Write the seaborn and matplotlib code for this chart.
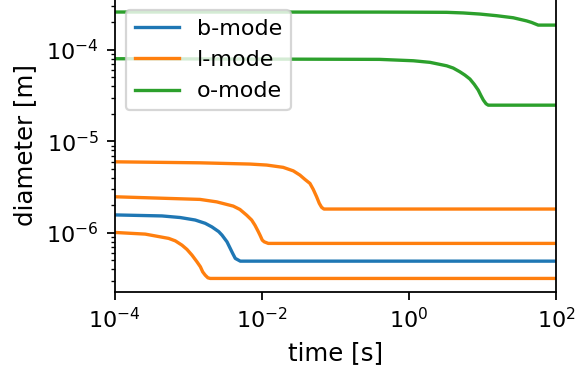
import matplotlib
matplotlib.use("Agg")
import matplotlib.pyplot as plt
import matplotlib.ticker as mticker
import seaborn as sns

# Droplet diameter histories (time in s, diameter in m)
b_time = [1e-4, 4.42e-4, 7.8e-4, 1.25e-3, 1.71e-3, 2.11e-3, 2.61e-3, 2.89e-3, 3.38e-3,
          3.74e-3, 4.04e-3, 4.38e-3, 5.12e-3, 1e2]
b_diam = [1.57e-6, 1.53e-6, 1.47e-6, 1.38e-6, 1.27e-6, 1.16e-6, 1.03e-6, 9.44e-7, 7.97e-7,
          6.75e-7, 5.95e-7, 5.25e-7, 4.90e-7, 4.90e-7]

l1_time = [1e-4, 2.62e-4, 5.45e-4, 6.70e-4, 8.26e-4, 9.66e-4, 1.13e-3, 1.32e-3,
           1.47e-3, 1.58e-3, 1.71e-3, 1.86e-3, 2.00e-3, 1e2]
l1_diam = [1.01e-6, 9.68e-7, 8.69e-7, 8.17e-7, 7.33e-7, 6.58e-7, 5.70e-7, 4.82e-7,
           4.25e-7, 3.74e-7, 3.44e-7, 3.22e-7, 3.17e-7, 3.17e-7]

l2_time = [1e-4, 1.45e-3, 2.45e-3, 4.11e-3, 5.07e-3, 6.25e-3, 7.31e-3, 8.11e-3,
           9.0e-3, 9.49e-3, 1.019e-2, 1.084e-2, 1.23e-2, 1e2]
l2_diam = [2.48e-6, 2.32e-6, 2.18e-6, 1.96e-6, 1.80e-6, 1.56e-6, 1.38e-6, 1.21e-6,
           1.03e-6, 9.44e-7, 8.32e-7, 7.97e-7, 7.66e-7, 7.66e-7]

l3_time = [1e-4, 1.45e-3, 6.94e-3, 1.17e-2, 1.96e-2, 2.69e-2, 3.31e-2, 3.87e-2,
           4.53e-2, 5.02e-2, 5.58e-2, 6.07e-2, 6.53e-2, 7.02e-2, 1e2]
l3_diam = [5.98e-6, 5.83e-6, 5.65e-6, 5.51e-6, 5.20e-6, 4.76e-6, 4.28e-6, 3.84e-6,
           3.47e-6, 2.99e-6, 2.48e-6, 2.10e-6, 1.90e-6, 1.82e-6, 1.82e-6]

o1_time = [1e-4, 0.40, 1.15, 1.94, 3.27, 4.01, 4.94, 5.78, 6.76, 7.74, 8.77,
           9.55, 10.3, 11.2, 12.0, 1e2]
o1_diam = [8.02e-5, 7.89e-5, 7.62e-5, 7.32e-5, 6.71e-5, 6.34e-5, 5.77e-5, 5.31e-5,
           4.81e-5, 4.21e-5, 3.64e-5, 3.17e-5, 2.83e-5, 2.58e-5, 2.49e-5, 2.49e-5]

o2_time = [1e-4, 0.40, 1.0, 3.27, 5.48, 9.25, 15.6, 26.2, 39.8, 46.6, 57.3, 1e2]
o2_diam = [2.60e-4, 2.595e-4, 2.59e-4, 2.58e-4, 2.54e-4, 2.47e-4, 2.37e-4, 2.25e-4,
           2.08e-4, 2.00e-4, 1.87e-4, 1.87e-4]

modes = ["b-mode", "l-mode", "o-mode"]
colors = ["tab:blue", "tab:orange", "tab:green"]
curves = [
    (0, b_time, b_diam),
    (1, l1_time, l1_diam),
    (1, l2_time, l2_diam),
    (1, l3_time, l3_diam),
    (2, o1_time, o1_diam),
    (2, o2_time, o2_diam),
]

fig = plt.figure(figsize=(577 / 160, 371 / 160), dpi=160)
ax = fig.add_axes([114.5 / 577, 79.3 / 371, (556 - 114.5) / 577, (371.9 - 79.3) / 371])

labelled = set()
for k, t, d in curves:
    lab = modes[k] if k not in labelled else None
    labelled.add(k)
    sns.lineplot(x=t, y=d, color=colors[k], ax=ax, label=lab, sort=True,
                 estimator=None, linewidth=1.5)

ax.set_xscale("log")
ax.set_yscale("log")
ax.set_xlim(1e-4, 1e2)
ax.set_ylim(2.27e-7, 3.6e-4)
ax.xaxis.set_major_locator(mticker.FixedLocator([1e-4, 1e-2, 1e0, 1e2]))
ax.xaxis.set_minor_locator(mticker.NullLocator())
ax.set_xlabel("time [s]", fontsize=11)
ax.set_ylabel("diameter [m]", fontsize=11)

h, l = ax.get_legend_handles_labels()
order = [l.index(m) for m in modes]
ax.legend([h[i] for i in order], [l[i] for i in order], loc="upper left")

fig.savefig("out.png", dpi=160)
